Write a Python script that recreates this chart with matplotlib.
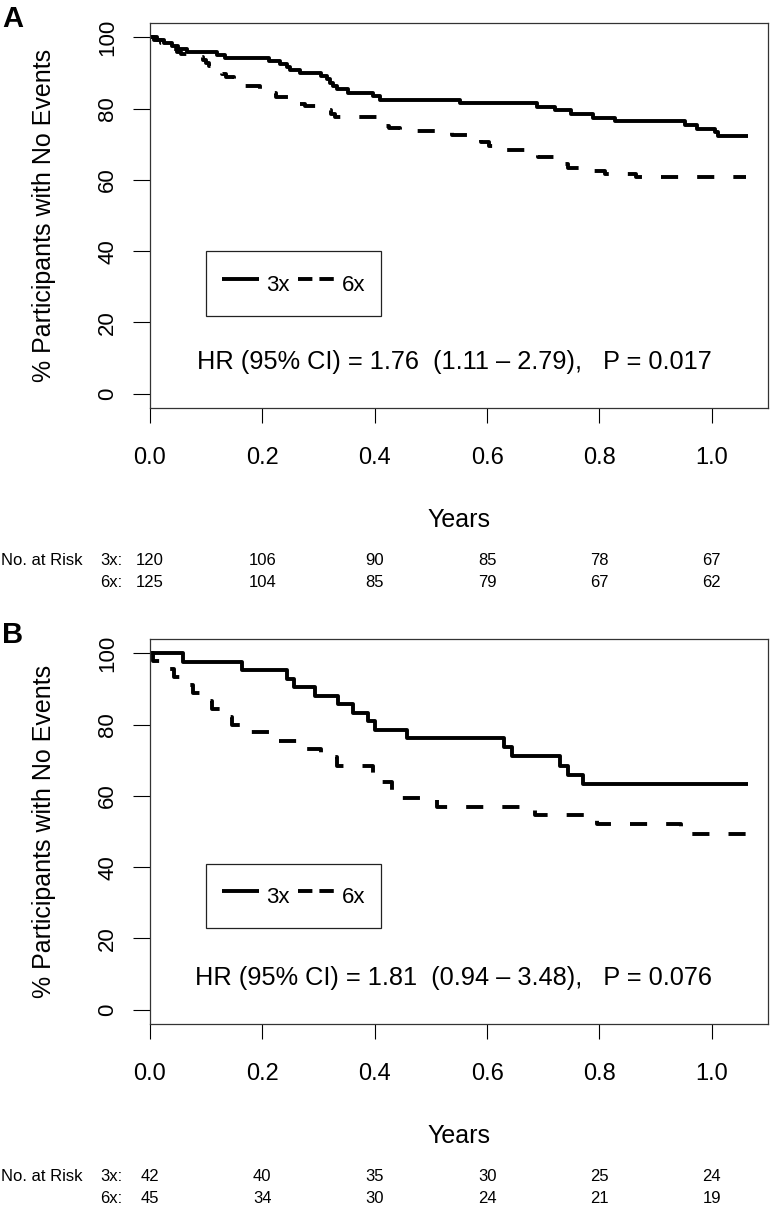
import numpy as np
import matplotlib.pyplot as plt
import matplotlib.transforms as mtransforms
from matplotlib.lines import Line2D

plt.rcParams['font.family'] = ['Liberation Sans', 'DejaVu Sans']

# ---- panel A: Kaplan-Meier steps (years, % with no events)
a_t_3x = [0, 0.008, 0.025, 0.040, 0.050, 0.065, 0.119, 0.133, 0.211, 0.231, 0.243, 0.249,
          0.267, 0.305, 0.315, 0.320, 0.326, 0.332, 0.353, 0.397, 0.409, 0.552, 0.688,
          0.721, 0.750, 0.789, 0.827, 0.952, 0.973, 1.005, 1.011, 1.065]
a_s_3x = [100, 99.2, 98.3, 97.5, 96.7, 95.8, 95.0, 94.2, 93.3, 92.5, 91.7, 90.8,
          90.0, 89.1, 88.2, 87.3, 86.3, 85.4, 84.4, 83.5, 82.5, 81.5, 80.5,
          79.5, 78.5, 77.4, 76.4, 75.3, 74.2, 73.3, 72.4, 72.4]
a_t_6x = [0, 0.012, 0.020, 0.035, 0.042, 0.048, 0.055, 0.089, 0.095, 0.100, 0.105, 0.112,
          0.120, 0.128, 0.135, 0.150, 0.160, 0.195, 0.210, 0.225, 0.250, 0.258, 0.275,
          0.315, 0.322, 0.330, 0.405, 0.413, 0.425, 0.445, 0.537, 0.575, 0.590, 0.603,
          0.612, 0.676, 0.690, 0.730, 0.737, 0.744, 0.790, 0.810, 0.865, 1.060]
a_s_6x = [100, 99.2, 98.4, 97.6, 96.8, 96.0, 95.2, 94.4, 93.6, 92.8, 92.0, 91.2,
          90.4, 89.6, 88.8, 87.2, 86.3, 85.5, 84.4, 83.2, 82.4, 81.4, 80.6,
          79.6, 78.6, 77.6, 76.2, 75.2, 74.6, 73.6, 72.7, 71.5, 70.5, 69.4,
          68.3, 67.5, 66.5, 65.4, 64.4, 63.4, 62.5, 61.7, 60.8, 60.8]

# ---- panel B
b_t_3x = [0, 0.058, 0.163, 0.243, 0.256, 0.294, 0.335, 0.362, 0.388, 0.400, 0.457,
          0.630, 0.644, 0.730, 0.744, 0.771, 1.065]
b_s_3x = [100, 97.6, 95.2, 92.9, 90.5, 88.1, 85.7, 83.3, 81.0, 78.6, 76.2,
          73.7, 71.2, 68.5, 65.9, 63.3, 63.3]
b_t_6x = [0, 0.006, 0.034, 0.042, 0.070, 0.077, 0.102, 0.110, 0.133, 0.146, 0.165,
          0.212, 0.262, 0.305, 0.333, 0.397, 0.403, 0.430, 0.434, 0.510, 0.686,
          0.795, 0.945, 1.065]
b_s_6x = [100, 97.8, 95.6, 93.3, 91.1, 88.9, 86.7, 84.4, 82.2, 80.0, 77.8,
          75.5, 73.2, 70.9, 68.5, 66.2, 63.9, 61.6, 59.3, 57.0, 54.6,
          52.0, 49.3, 49.3]

risk_times = [0.0, 0.2, 0.4, 0.6, 0.8, 1.0]
a_risk_3x = [120, 106, 90, 85, 78, 67]
a_risk_6x = [125, 104, 85, 79, 67, 62]
b_risk_3x = [42, 40, 35, 30, 25, 24]
b_risk_6x = [45, 34, 30, 24, 21, 19]

x_ticks = [0.0, 0.2, 0.4, 0.6, 0.8, 1.0]
x_tick_labels = ["0.0", "0.2", "0.4", "0.6", "0.8", "1.0"]
y_ticks = [0, 20, 40, 60, 80, 100]
y_tick_labels = ["0", "20", "40", "60", "80", "100"]

a_hr = "HR (95% CI) = 1.76  (1.11 \u2013 2.79),   P = 0.017"
b_hr = "HR (95% CI) = 1.81  (0.94 \u2013 3.48),   P = 0.076"

W, H = 773, 1207
fig = plt.figure(figsize=(W / 100, H / 100), dpi=100)

LW = 2.8
DASH = (0, (4.4, 4.9))


def fy(py):
    return 1 - py / H


def panel(letter, off, t3, s3, t6, s6, r3, r6, hr, leg_top):
    ax = fig.add_axes([150 / W, fy(off + 23 + 385), 618 / W, 385 / H])
    ax.step(t3, s3, where='post', color='k', lw=LW, solid_capstyle='butt')
    ax.step(t6, s6, where='post', color='k', lw=LW, linestyle=DASH,
            dash_capstyle='butt')
    ax.set_xlim(0, 1.1)
    ax.set_ylim(-4, 104)
    ax.set_xticks(x_ticks, x_tick_labels, fontsize=17)
    ax.set_yticks(y_ticks, y_tick_labels, fontsize=16)
    ax.tick_params(axis='x', length=11, width=0.8, pad=17)
    ax.tick_params(axis='y', length=12, width=0.8, pad=11, labelrotation=90)
    for lab in ax.get_yticklabels():
        lab.set_va('center')
    for sp in ax.spines.values():
        sp.set_color('#333333')
        sp.set_linewidth(0.9)

    ax.set_ylabel("% Participants with No Events", fontsize=18)
    ax.yaxis.set_label_coords(-0.152, 0.5)
    ax.set_xlabel("Years", fontsize=18)
    ax.xaxis.label.set_va('baseline')
    ax.xaxis.set_label_coords(0.5, -(527 - 408) / 385)

    # legend
    h3 = Line2D([], [], color='k', lw=LW, solid_capstyle='butt')
    h6 = Line2D([], [], color='k', lw=LW, linestyle=(0, (3.7, 1.8)),
                dash_capstyle='butt')
    leg = ax.legend([h3, h6], ["3x", "6x"], ncol=2, fontsize=16,
                    loc='upper left', bbox_to_anchor=(0.1, leg_top),
                    bbox_transform=ax.transData, borderaxespad=0,
                    fancybox=False, edgecolor='#222222', framealpha=1,
                    borderpad=0.7, handlelength=1.66, handleheight=1.95,
                    handletextpad=0.35, columnspacing=0.35)
    leg.get_frame().set_linewidth(0.9)

    ax.text(0.541, 7.0, hr, fontsize=18.3, ha='center', va='baseline')

    fig.text(2 / W, fy(off + 27), letter, fontsize=21, fontweight='bold',
             ha='left', va='baseline')

    # numbers at risk
    tr = mtransforms.blended_transform_factory(ax.transData, fig.transFigure)
    for row, (lab, vals) in enumerate([("3x:", r3), ("6x:", r6)]):
        yb = fy(off + 565 + 22 * row)
        if row == 0:
            fig.text(1 / W, yb, "No. at Risk", fontsize=12, ha='left', va='baseline')
        fig.text(100 / W, yb, lab, fontsize=12, ha='left', va='baseline')
        for t, v in zip(risk_times, vals):
            ax.text(t, yb, str(v), fontsize=12, ha='center', va='baseline',
                    transform=tr, clip_on=False)
    return ax


panel("A", 0, a_t_3x, a_s_3x, a_t_6x, a_s_6x, a_risk_3x, a_risk_6x, a_hr, 40)
panel("B", 616, b_t_3x, b_s_3x, b_t_6x, b_s_6x, b_risk_3x, b_risk_6x, b_hr, 41)

fig.savefig("out.png", dpi=100)
